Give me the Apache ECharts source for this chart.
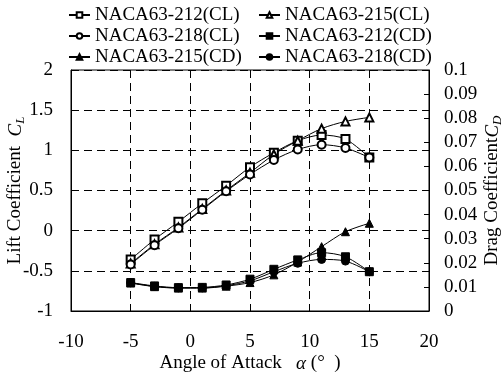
<!DOCTYPE html>
<html>
<head>
<meta charset="utf-8">
<script src="https://cdn.jsdelivr.net/npm/echarts@6/dist/echarts.min.js"></script>
<style>
    html, body { margin: 0; padding: 0; background: #fff; }
    #main { width: 502px; height: 374px; }
</style>
</head>
<body>
<div id="main"></div>
<script>
(function () {
    'use strict';

    // 攻角 (deg)
    var alpha = [-5, -3, -1, 1, 3, 5, 7, 9, 11, 13, 15];

    // 升力系数 CL
    var cl212 = [-0.36, -0.11, 0.11, 0.34, 0.56, 0.79, 0.97, 1.12, 1.19, 1.14, 0.91];
    var cl215 = [-0.41, -0.17, 0.04, 0.27, 0.50, 0.72, 0.95, 1.12, 1.27, 1.36, 1.41];
    var cl218 = [-0.42, -0.18, 0.03, 0.26, 0.49, 0.70, 0.88, 1.01, 1.07, 1.03, 0.91];

    // 阻力系数 CD
    var cd212 = [0.0118, 0.0104, 0.0097, 0.0098, 0.0108, 0.0132, 0.0173, 0.0212, 0.0242, 0.0225, 0.0163];
    var cd215 = [0.0116, 0.0101, 0.0095, 0.0095, 0.0103, 0.0118, 0.0150, 0.0203, 0.0267, 0.0329, 0.0364];
    var cd218 = [0.0117, 0.0102, 0.0096, 0.0096, 0.0105, 0.0125, 0.0163, 0.0198, 0.0214, 0.0207, 0.0163];

    var names = ['NACA63-212(CL)', 'NACA63-215(CL)', 'NACA63-218(CL)',
                 'NACA63-212(CD)', 'NACA63-215(CD)', 'NACA63-218(CD)'];

    var font = 'Liberation Serif';

    function pairs(ys) {
        return alpha.map(function (a, i) { return [a, ys[i]]; });
    }

    function line(name, ys, symbol, yIdx) {
        return {
            name: name,
            type: 'line',
            yAxisIndex: yIdx,
            data: pairs(ys),
            smooth: 0.3,
            symbol: symbol,
            symbolSize: 8,
            showAllSymbol: true,
            lineStyle: { color: '#000', width: 1 },
            itemStyle: { color: '#000', borderColor: '#000', borderWidth: 1 }
        };
    }

    var myChart = echarts.init(document.getElementById('main'));

    var legendCommon = {
        orient: 'vertical',
        top: 0,
        itemWidth: 21,
        itemHeight: 7,
        itemGap: 1,
        textStyle: { fontFamily: font, fontSize: 19, color: '#000', lineHeight: 20 }
    };

    var option = {
        animation: false,
        backgroundColor: '#fff',
        legend: [
            Object.assign({ left: 63, data: [names[0], names[2], names[4]] }, legendCommon),
            Object.assign({ left: 253, data: [names[1], names[3], names[5]] }, legendCommon)
        ],
        grid: {
            left: 71,
            right: 73,
            top: 70,
            bottom: 63,
            containLabel: false,
            outerBoundsMode: 'none',
            show: true,
            borderColor: '#000',
            borderWidth: 1
        },
        xAxis: {
            type: 'value',
            min: -10,
            max: 20,
            interval: 5,
            name: '{t|Angle of Attack   }{a|α}{t| (°  )}',
            nameLocation: 'middle',
            nameGap: 43,
            nameMoveOverlap: false,
            nameTextStyle: {
                rich: {
                    t: { fontFamily: font, fontSize: 19, color: '#000' },
                    a: { fontFamily: font, fontSize: 19, color: '#000', fontStyle: 'italic' }
                }
            },
            axisLine: { onZero: false, lineStyle: { color: '#000' } },
            axisTick: { show: false },
            axisLabel: { fontFamily: font, fontSize: 19, color: '#000', margin: 22 },
            splitLine: { show: true, lineStyle: { color: '#000', type: [8, 5] } }
        },
        yAxis: [{
            type: 'value',
            min: -1,
            max: 2,
            interval: 0.5,
            name: '{t|Lift Coefficient  }{c|C}{s|L}',
            nameLocation: 'middle',
            nameGap: 44,
            nameMoveOverlap: false,
            nameTextStyle: {
                rich: {
                    t: { fontFamily: font, fontSize: 19, color: '#000' },
                    c: { fontFamily: font, fontSize: 19, color: '#000', fontStyle: 'italic' },
                    s: { fontFamily: font, fontSize: 13, color: '#000', fontStyle: 'italic', padding: [10, 0, 0, 0] }
                }
            },
            axisLine: { show: true, onZero: false, lineStyle: { color: '#000' } },
            axisTick: { show: true, inside: true, length: 5, lineStyle: { color: '#000' } },
            axisLabel: { fontFamily: font, fontSize: 19, color: '#000', margin: 18 },
            splitLine: { show: true, lineStyle: { color: '#000', type: [8, 5] } }
        }, {
            type: 'value',
            min: 0,
            max: 0.1,
            interval: 0.01,
            position: 'right',
            name: '{t|Drag Coefficient}{c|C}{s|D}',
            nameLocation: 'middle',
            nameGap: 52,
            nameMoveOverlap: false,
            nameTextStyle: {
                rich: {
                    t: { fontFamily: font, fontSize: 19, color: '#000' },
                    c: { fontFamily: font, fontSize: 19, color: '#000', fontStyle: 'italic' },
                    s: { fontFamily: font, fontSize: 13, color: '#000', fontStyle: 'italic', padding: [10, 0, 0, 0] }
                }
            },
            axisLine: { show: true, onZero: false, lineStyle: { color: '#000' } },
            axisTick: { show: true, inside: true, length: 5, lineStyle: { color: '#000' } },
            axisLabel: { fontFamily: font, fontSize: 19, color: '#000', margin: 15 },
            splitLine: { show: false }
        }],
        series: [
            line(names[0], cl212, 'emptyRect', 0),
            line(names[1], cl215, 'emptyTriangle', 0),
            line(names[2], cl218, 'emptyCircle', 0),
            line(names[3], cd212, 'rect', 1),
            line(names[4], cd215, 'triangle', 1),
            line(names[5], cd218, 'circle', 1)
        ]
    };

    myChart.setOption(option);
    window.addEventListener('resize', function () {
        myChart.resize();
    });
})();
</script>
</body>
</html>
